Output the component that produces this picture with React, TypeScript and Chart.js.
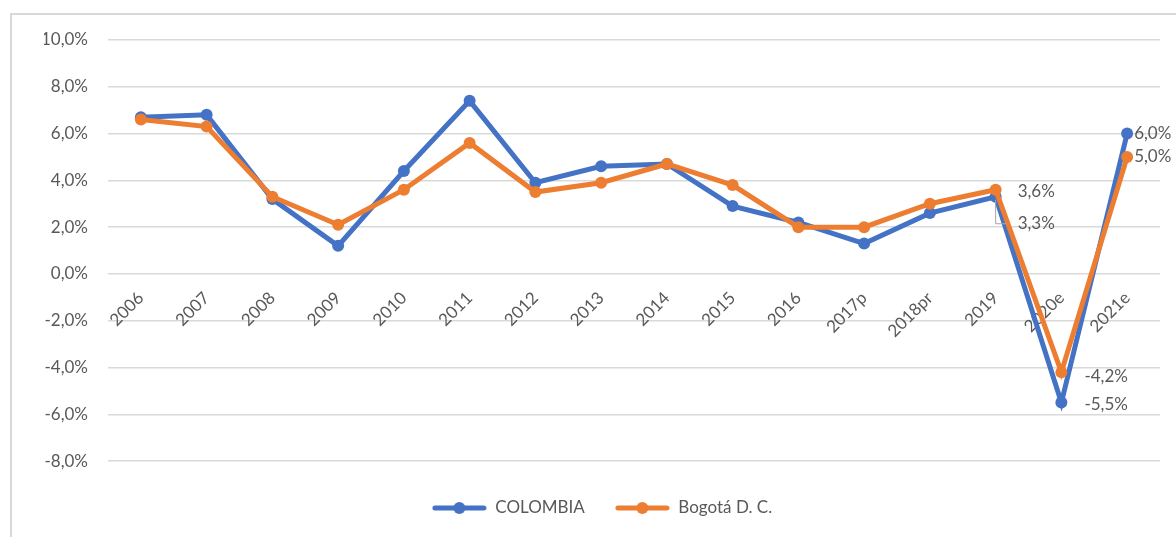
import React, { useEffect, useRef } from "react";
import { Chart, registerables } from "chart.js";

Chart.register(...registerables);

const categories = ["2006", "2007", "2008", "2009", "2010", "2011", "2012", "2013", "2014", "2015", "2016", "2017p", "2018pr", "2019", "2020e", "2021e"];
const colombia = [6.7, 6.8, 3.2, 1.2, 4.4, 7.4, 3.9, 4.6, 4.7, 2.9, 2.2, 1.3, 2.6, 3.3, -5.5, 6.0];
const bogota = [6.6, 6.3, 3.3, 2.1, 3.6, 5.6, 3.5, 3.9, 4.7, 3.8, 2.0, 2.0, 3.0, 3.6, -4.2, 5.0];
const seriesNames = ["COLOMBIA", "Bogotá D. C."];
const labeledIndices = [13, 14, 15];
const yMin = -8;
const yMax = 10;
const yStep = 2;

const BLUE = "#4472C4";
const ORANGE = "#ED7D31";
const TEXT = "#595959";
const GRID = "#d9d9d9";
const FONT = "Lato, 'Open Sans', sans-serif";

const fmt = (v: number) => v.toFixed(1).replace(".", ",") + "%";

// label offsets (style) per dataset, per labelled index
const labelOffsets: Record<number, Record<number, [number, number]>> = {
  0: { 13: [22, 27], 14: [23, 2], 15: [7, 0] },
  1: { 13: [22, 2], 14: [23, 4], 15: [7, 0] },
};

function legendSymbol(color: string): HTMLCanvasElement {
  const c = document.createElement("canvas");
  c.width = 55;
  c.height = 14;
  const ctx = c.getContext("2d")!;
  ctx.strokeStyle = color;
  ctx.lineWidth = 5;
  ctx.lineCap = "round";
  ctx.beginPath();
  ctx.moveTo(3, 7);
  ctx.lineTo(52, 7);
  ctx.stroke();
  ctx.fillStyle = color;
  ctx.beginPath();
  ctx.arc(27.5, 7, 6, 0, Math.PI * 2);
  ctx.fill();
  return c;
}

const dataLabelPlugin = {
  id: "dataLabelsCustom",
  afterDatasetsDraw(chart: any) {
    const ctx = chart.ctx;
    ctx.save();
    ctx.font = `17px ${FONT}`;
    ctx.fillStyle = TEXT;
    ctx.textAlign = "left";
    ctx.textBaseline = "middle";
    chart.data.datasets.forEach((ds: any, di: number) => {
      const meta = chart.getDatasetMeta(di);
      labeledIndices.forEach((i) => {
        const pt = meta.data[i];
        if (!pt) return;
        const [dx, dy] = labelOffsets[di][i];
        if (di === 0 && i === 13) {
          ctx.save();
          ctx.strokeStyle = "#a6a6a6";
          ctx.lineWidth = 1;
          ctx.beginPath();
          ctx.moveTo(pt.x, pt.y + 3);
          ctx.lineTo(pt.x, pt.y + dy);
          ctx.lineTo(pt.x + 11, pt.y + dy);
          ctx.stroke();
          ctx.restore();
        }
        ctx.fillText(fmt(ds.data[i]), pt.x + dx, pt.y + dy);
      });
    });
    ctx.restore();
  },
};

export default function App() {
  const ref = useRef<HTMLCanvasElement | null>(null);

  useEffect(() => {
    if (!ref.current) return;
    const symbols = [legendSymbol(BLUE), legendSymbol(ORANGE)];
    const chart = new Chart(ref.current, {
      type: "line",
      data: {
        labels: categories,
        datasets: [
          {
            label: seriesNames[0],
            data: colombia,
            borderColor: BLUE,
            backgroundColor: BLUE,
            borderWidth: 5,
            pointRadius: 6,
            pointBorderWidth: 0,
            pointBackgroundColor: BLUE,
            tension: 0,
            order: 1,
          },
          {
            label: seriesNames[1],
            data: bogota,
            borderColor: ORANGE,
            backgroundColor: ORANGE,
            borderWidth: 5,
            pointRadius: 6,
            pointBorderWidth: 0,
            pointBackgroundColor: ORANGE,
            tension: 0,
            order: 0,
          },
        ],
      },
      options: {
        animation: false,
        responsive: false,
        maintainAspectRatio: false,
        layout: { padding: { left: 44, right: 16, top: 40, bottom: 10.5 } },
        scales: {
          x: {
            type: "category",
            position: { y: 0 },
            offset: true,
            grid: { display: false, drawTicks: false },
            border: { display: false },
            ticks: {
              autoSkip: false,
              minRotation: 45,
              maxRotation: 45,
              padding: 14,
              color: TEXT,
              font: { family: FONT, size: 17 },
            },
          },
          y: {
            min: yMin - 0.36,
            max: yMax,
            afterFit: (scale: any) => {
              scale.width = 64;
            },
            border: { display: false },
            grid: { color: GRID, lineWidth: 1.5, drawTicks: false },
            ticks: {
              stepSize: yStep,
              includeBounds: false,
              padding: 20,
              color: TEXT,
              font: { family: FONT, size: 17 },
              callback: (v: any) => fmt(Number(v)),
            },
          },
        },
        plugins: {
          legend: {
            position: "bottom",
            labels: {
              usePointStyle: true,
              pointStyleWidth: 55,
              padding: 30,
              color: TEXT,
              font: { family: FONT, size: 17 },
              sort: (a: any, b: any) => a.datasetIndex - b.datasetIndex,
              generateLabels: (ch: any) => {
                const base = Chart.defaults.plugins.legend.labels.generateLabels(ch);
                return base.map((item: any, i: number) => ({
                  ...item,
                  pointStyle: symbols[item.datasetIndex ?? i],
                }));
              },
            },
          },
          tooltip: { enabled: false },
        },
      },
      plugins: [dataLabelPlugin],
    } as any);
    return () => chart.destroy();
  }, []);

  return (
    <div style={{ position: "fixed", left: 0, top: 0, width: 1176, height: 537, background: "#fff", overflow: "hidden" }}>
      <div
        style={{
          position: "absolute",
          left: 10,
          top: 13,
          width: 1200,
          height: 600,
          border: `2px solid ${GRID}`,
          boxSizing: "border-box",
        }}
      />
      <canvas ref={ref} width={1176} height={537} style={{ position: "absolute", left: 0, top: 0, width: 1176, height: 537 }} />
    </div>
  );
}
